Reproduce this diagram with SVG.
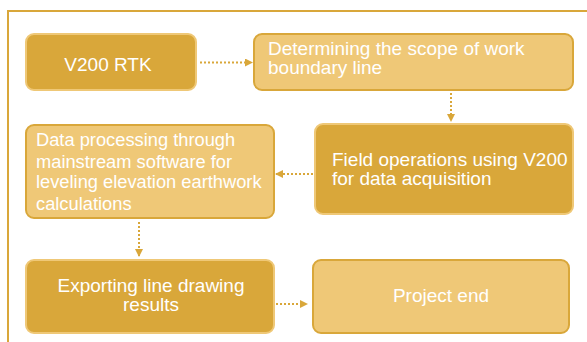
<svg xmlns="http://www.w3.org/2000/svg" width="587" height="342" viewBox="0 0 587 342">
  <style>
    .dark { fill: #D9A73A; stroke: #EFC877; stroke-width: 2; }
    .light { fill: #EFC877; stroke: #D9A73A; stroke-width: 2; }
    .txt { font-family: "Liberation Sans", Arial, sans-serif; font-size: 19px; fill: #FFFFFF; }
    .small { font-size: 18.3px; }
    .mid { text-anchor: middle; }
    .link { fill: none; stroke: #D9A73A; stroke-width: 2; stroke-dasharray: 2 2; }
  </style>
  <defs>
    <marker id="arrow" viewBox="0 0 8 8" refX="7" refY="4" markerWidth="8" markerHeight="8" markerUnits="userSpaceOnUse" orient="auto">
      <path d="M0,0 L8,4 L0,8 Z" fill="#D9A73A"/>
    </marker>
  </defs>

  <rect width="587" height="342" fill="#FFFFFF"/>
  <!-- outer frame -->
  <path d="M8,342 V11 H590" fill="none" stroke="#D9A73A" stroke-width="2"/>

  <g id="connectors">
    <path class="link" d="M200,62.5 H252" marker-end="url(#arrow)"/>
    <path class="link" d="M451,93 V121" marker-end="url(#arrow)"/>
    <path class="link" d="M313,174 H276" marker-end="url(#arrow)"/>
    <path class="link" d="M139,222 V256" marker-end="url(#arrow)"/>
    <path class="link" d="M276,304 H307" marker-end="url(#arrow)"/>
  </g>

  <g id="n-v200">
    <rect class="dark" x="26" y="34" width="170" height="56" rx="8"/>
    <text class="txt mid" x="108" y="71">V200 RTK</text>
  </g>

  <g id="n-scope">
    <rect class="light" x="254" y="34" width="319" height="56" rx="8"/>
    <text class="txt" x="268" y="55">Determining the scope of work</text>
    <text class="txt" x="268" y="74">boundary line</text>
  </g>

  <g id="n-field">
    <rect class="dark" x="315" y="124" width="258" height="90" rx="8"/>
    <text class="txt" x="332" y="166">Field operations using V200</text>
    <text class="txt" x="332" y="185">for data acquisition</text>
  </g>

  <g id="n-processing">
    <rect class="light" x="26" y="125" width="248" height="93" rx="8"/>
    <text class="txt small" x="36" y="146">Data processing through</text>
    <text class="txt small" x="36" y="167.5">mainstream software for</text>
    <text class="txt small" x="36" y="188">leveling elevation earthwork</text>
    <text class="txt small" x="36" y="209.5">calculations</text>
  </g>

  <g id="n-export">
    <rect class="dark" x="26" y="260" width="248" height="73" rx="8"/>
    <text class="txt mid" x="151" y="292">Exporting line drawing</text>
    <text class="txt mid" x="151" y="311">results</text>
  </g>

  <g id="n-end">
    <rect class="light" x="313" y="260" width="256" height="73" rx="8"/>
    <text class="txt mid" x="441" y="302">Project end</text>
  </g>
</svg>
